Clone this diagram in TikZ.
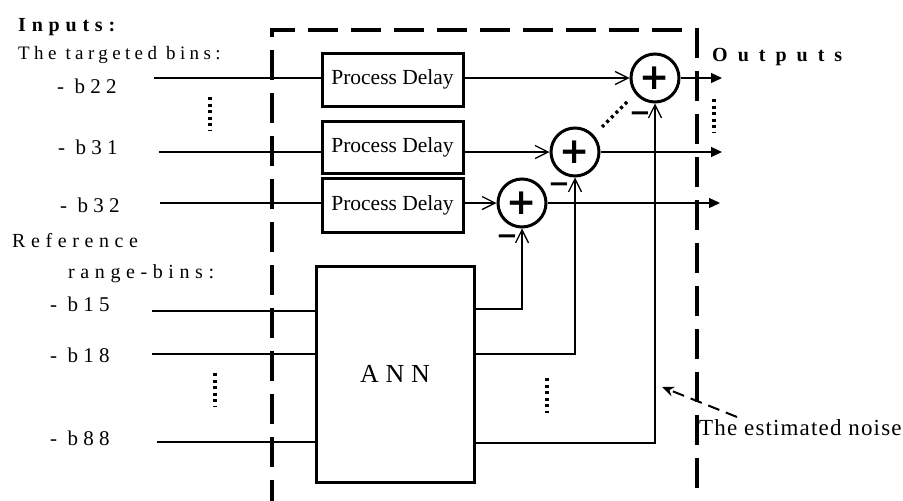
\documentclass[tikz,border=0pt]{standalone}
\usepackage{fontspec}
\setmainfont{Liberation Serif}
\newfontfamily\dvsans{DejaVu Sans}
\newfontfamily\lsInputs[LetterSpace=29]{Liberation Serif}
\newfontfamily\lsTarget[LetterSpace=23]{Liberation Serif}
\newfontfamily\lsRef[LetterSpace=28]{Liberation Serif}
\newfontfamily\lsRange[LetterSpace=28]{Liberation Serif}
\newfontfamily\lsBin[LetterSpace=25]{Liberation Serif}
\newfontfamily\lsOut[LetterSpace=50]{Liberation Serif}
\newfontfamily\lsAnn[LetterSpace=26]{Liberation Serif}
\newfontfamily\lsNoise[LetterSpace=5]{Liberation Serif}
\usetikzlibrary{arrows.meta}
\newcommand\pdfont{\fontsize{21.5}{24}\selectfont}
\newcommand\plusfont{\dvsans\bfseries\fontsize{36}{36}\selectfont}
\newcommand\minusfont{\dvsans\bfseries\fontsize{26}{26}\selectfont}
\tikzset{
  conn/.style={line width=1.3pt},
  pdbox/.style={draw, line width=3pt, minimum width=141pt, inner sep=0pt, font=\pdfont},
  annbox/.style={draw, line width=3pt, minimum width=158pt, minimum height=216pt, inner sep=0pt},
  sumnode/.style={circle, draw, line width=3pt, minimum size=48pt, inner sep=0pt, font=\plusfont},
  inarr/.style={conn, -{Straight Barb[length=13pt,width=13pt,line width=1.3pt]}},
  outarr/.style={conn, -{Triangle[length=11pt,width=10pt]}},
  dotline/.style={line width=3.5pt, dash pattern=on 3pt off 3.5pt},
  frame/.style={line width=4pt, dash pattern=on 30pt off 13pt},
  lbl/.style={anchor=base west, inner sep=0pt},
  binlbl/.style={lbl, font=\lsBin\fontsize{21}{24}\selectfont},
  minus/.style={font=\minusfont, inner sep=0pt},
}
\begin{document}
\begin{tikzpicture}[x=1pt,y=-1pt]
\useasboundingbox (0,0) rectangle (903,501);
% dashed frame
\draw[frame] (272,50) -- (272,501);
\draw[frame, dash phase=30pt] (272,50) -- (272,30) -- (697,30) -- (697,501);

% labels
\node[lbl, font=\lsInputs\bfseries\fontsize{20}{24}\selectfont] (tin) at (18,31) {Inputs:};
\node[lbl, font=\lsTarget\fontsize{19}{24}\selectfont] (ttb) at (18,59) {The targeted bins:};
\node[binlbl] (t22) at (57,93) {- b22};
\node[binlbl] (t31) at (58,154) {- b31};
\node[binlbl] (t32) at (60,212) {- b32};
\node[lbl, font=\lsRef\fontsize{20}{24}\selectfont] (tref) at (12,247) {Reference};
\node[lbl, font=\lsRange\fontsize{20}{24}\selectfont] (trng) at (68,278) {range-bins:};
\node[binlbl] (t15) at (50,311) {- b15};
\node[binlbl] (t18) at (50,362) {- b18};
\node[binlbl] (t88) at (50,445) {- b88};
\node[lbl, font=\lsOut\bfseries\fontsize{20}{24}\selectfont] (tout) at (712,61) {Outputs};
\node[lbl, font=\lsNoise\fontsize{23}{26}\selectfont] (noise) at (699,435) {The estimated noise};

% blocks
\node[pdbox, minimum height=53pt] (pd1) at (392.5,79.5) {Process Delay};
\node[pdbox, minimum height=52pt] (pd2) at (392.5,147) {Process Delay};
\node[pdbox, minimum height=54pt] (pd3) at (392.5,205) {Process Delay};
\node[annbox, font=\lsAnn\fontsize{26}{28}\selectfont] (ann) at (395,374) {ANN};

\node[sumnode] (s1) at (655,78) {+};
\node[sumnode] (s2) at (575,152) {+};
\node[sumnode] (s3) at (522,203) {+};

\node[minus] (m1) at (640,117) {−};
\node[minus] (m2) at (559,188) {−};
\node[minus] (m3) at (507,240) {−};

% coordinates
\coordinate (i22) at (154,78);
\coordinate (i31) at (159,152);
\coordinate (i32) at (160,203);
\coordinate (i15) at (152,311);
\coordinate (i18) at (152,354);
\coordinate (i88) at (157,442);
\coordinate (o1) at (722,78);
\coordinate (o2) at (722,152);
\coordinate (o3) at (720,203);
\coordinate (q1) at (0,309);
\coordinate (q2) at (0,354);
\coordinate (q3) at (0,443);
\coordinate (nstart) at (737,417);
\coordinate (nend) at (662,387);

% inputs
\draw[conn] (i22) -- (i22 -| pd1.west);
\draw[conn] (i31) -- (i31 -| pd2.west);
\draw[conn] (i32) -- (i32 -| pd3.west);
\draw[conn] (i15) -- (i15 -| ann.west);
\draw[conn] (i18) -- (i18 -| ann.west);
\draw[conn] (i88) -- (i88 -| ann.west);

% delays to sums
\draw[inarr] (i22 -| pd1.east) -- (s1);
\draw[inarr] (i31 -| pd2.east) -- (s2);
\draw[inarr] (i32 -| pd3.east) -- (s3);

% ANN to sums
\draw[inarr] (q1 -| ann.east) -| (s3.south);
\draw[inarr] (q2 -| ann.east) -| (s2.south);
\draw[inarr] (q3 -| ann.east) -| (s1.south);

% outputs
\draw[outarr] (s1) -- (o1);
\draw[outarr] (s2) -- (o2);
\draw[outarr] (s3) -- (o3);

% dots
\draw[dotline] (210,97) -- (210,131);
\draw[dotline] (215,373) -- (215,407);
\draw[dotline] (547,378) -- (547,413);
\draw[dotline] (714,99) -- (714,133);
\draw[dotline] (602,127) -- (627,102);

% noise arrow
\draw[line width=2pt, dash pattern=on 12pt off 7pt, -{Stealth[length=12pt,width=10pt]}] (nstart) -- (nend);
\end{tikzpicture}
\end{document}
